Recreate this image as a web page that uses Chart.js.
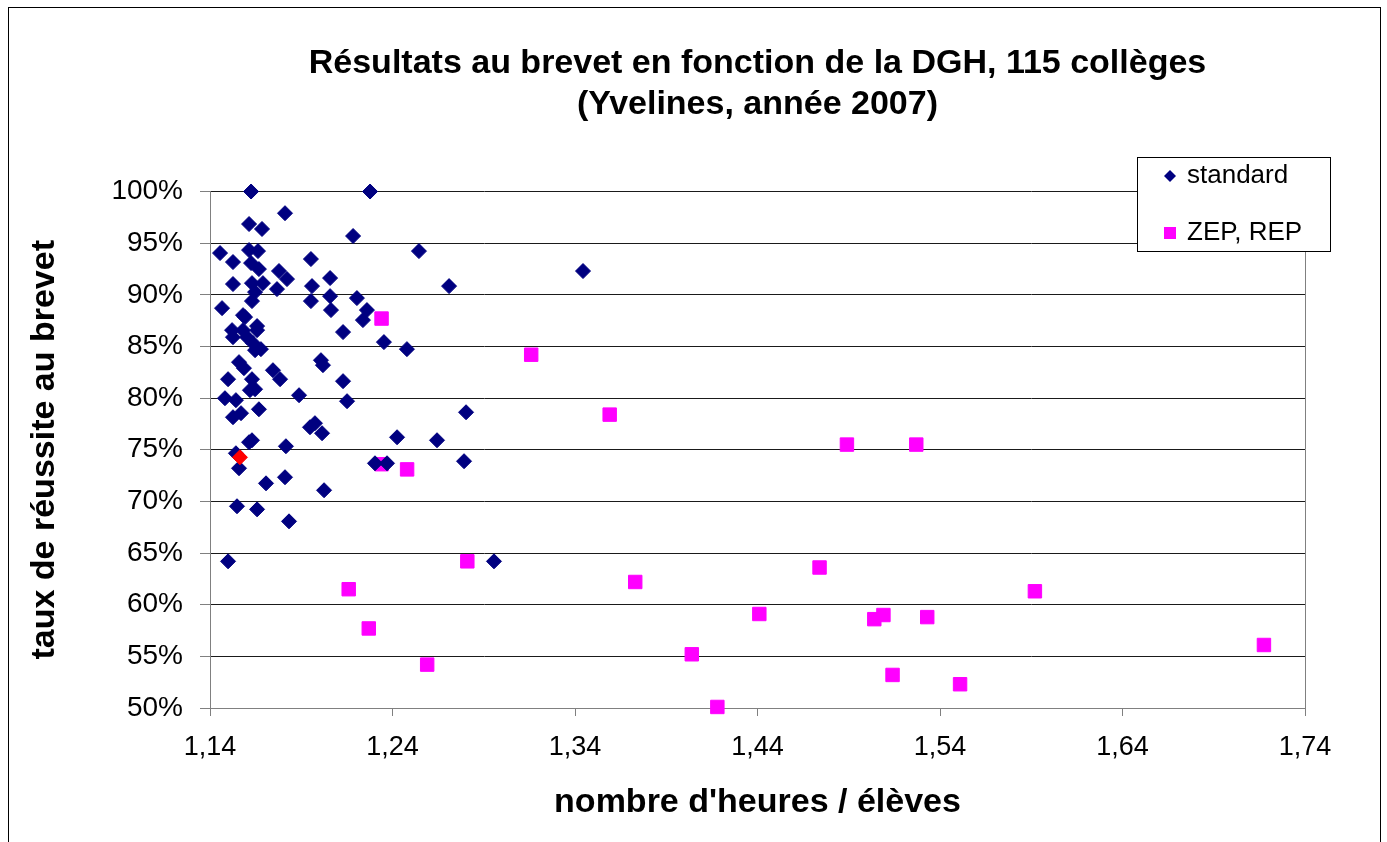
<!DOCTYPE html>
<html><head><meta charset="utf-8">
<script src="https://cdn.jsdelivr.net/npm/chart.js@4.4.0/dist/chart.umd.min.js"></script>
<style>html,body{margin:0;padding:0;background:#fff;overflow:hidden}canvas{display:block}</style>
</head><body>
<canvas id="c" width="1387" height="842"></canvas>
<script>
const titleLines = ['Résultats au brevet en fonction de la DGH, 115 collèges', '(Yvelines, année 2007)'];
const xAxisTitle = "nombre d'heures / élèves";
const yAxisTitle = 'taux de réussite au brevet';
const seriesNames = ['standard', 'ZEP, REP'];
const xTickValues = [1.14, 1.24, 1.34, 1.44, 1.54, 1.64, 1.74];
const xTickLabels = ['1,14', '1,24', '1,34', '1,44', '1,54', '1,64', '1,74'];
const yTickValues = [50, 55, 60, 65, 70, 75, 80, 85, 90, 95, 100];
const yTickLabels = ['50%', '55%', '60%', '65%', '70%', '75%', '80%', '85%', '90%', '95%', '100%'];

// standard colleges (last entry = highlighted college)
const stdX = [1.1625,1.2277,1.1811,1.1614,1.1685,1.2184,1.1455,1.1614,1.1663,1.2545,
  1.1953,1.1526,1.1625,1.1668,1.1778,1.1822,1.2058,1.1526,1.1630,1.1690,
  1.1959,1.2710,1.1767,1.1647,1.2058,1.2205,1.1953,1.1630,1.3444,1.1466,
  1.2063,1.2260,1.1581,1.2238,1.1658,1.1521,1.1581,1.2129,1.1526,1.1603,
  1.2353,1.1636,1.1679,1.2479,1.1559,1.1586,1.2008,1.2019,1.1630,1.1499,
  1.1745,1.1784,1.1619,1.1647,1.1482,1.1542,1.1888,1.2129,1.2151,1.1668,
  1.1526,1.1570,1.2803,1.1948,1.1975,1.2014,1.2425,1.2644,1.1614,1.1630,
  1.1816,1.1542,1.1559,1.2304,1.2370,1.2792,1.1811,1.1707,1.2025,1.1548,
  1.1658,1.1833,1.1499,1.2956,1.1647,1.1592,1.1658,
  1.1564];
const stdY = [100.0,100.0,97.9,96.85,96.37,95.69,94.04,94.33,94.23,94.23,
  93.46,93.17,93.07,92.49,92.30,91.52,91.62,91.04,91.13,91.13,
  90.84,90.84,90.55,90.26,89.87,89.68,89.39,89.39,92.30,88.71,
  88.52,88.52,88.03,87.55,86.97,86.58,86.58,86.39,85.90,85.90,
  85.42,85.32,84.74,84.74,83.48,82.90,83.67,83.19,81.83,81.83,
  82.70,81.83,80.77,80.86,79.99,79.80,80.28,81.64,79.70,78.92,
  78.15,78.54,78.63,77.18,77.57,76.60,76.21,75.92,75.73,75.92,
  75.34,74.66,73.21,73.69,73.69,73.89,72.34,71.75,71.08,69.53,
  69.23,68.07,64.20,64.20,84.64,87.84,86.58,
  74.27];
const highlightIndex = stdX.length - 1;

// ZEP / REP colleges
const zepX = [1.234,1.316,1.359,1.489,1.527,1.234,1.248,1.281,1.373,1.216,
  1.474,1.592,1.227,1.441,1.504,1.509,1.533,1.259,1.404,1.514,
  1.551,1.418,1.7175];
const zepY = [87.7,84.2,78.4,75.5,75.5,73.6,73.1,64.2,62.2,61.5,
  63.6,61.3,57.7,59.1,58.6,59.0,58.8,54.2,55.2,53.2,
  52.3,50.1,56.1];

const FONT = "'Liberation Sans', Arial, sans-serif";
Chart.defaults.font.family = FONT;
Chart.defaults.color = '#000';

const stdColors = stdX.map((_, i) => i === highlightIndex ? '#FF0000' : '#000080');

const frameAndLegend = {
  id: 'frameAndLegend',
  beforeDraw(chart) {
    const ctx = chart.ctx;
    ctx.save();
    ctx.fillStyle = '#fff';
    ctx.fillRect(0, 0, chart.width, chart.height);
    ctx.restore();
  },
  beforeDatasetsDraw(chart) {
    const {ctx, chartArea: a} = chart;
    ctx.save();
    ctx.strokeStyle = '#808080';
    ctx.lineWidth = 1;
    ctx.beginPath();
    ctx.moveTo(Math.round(a.right) + 0.5, a.top);
    ctx.lineTo(Math.round(a.right) + 0.5, a.bottom);
    ctx.stroke();
    ctx.restore();
  },
  afterDraw(chart) {
    const ctx = chart.ctx;
    ctx.save();
    // outer chart frame
    ctx.strokeStyle = '#000';
    ctx.lineWidth = 1;
    ctx.strokeRect(8.5, 7.5, 1372, 900);
    // legend box
    const L = {x: 1137.5, y: 157.5, w: 193, h: 94};
    ctx.fillStyle = '#fff';
    ctx.fillRect(L.x, L.y, L.w, L.h);
    ctx.strokeRect(L.x, L.y, L.w, L.h);
    const rows = [176, 233];
    ctx.font = '26px ' + FONT;
    ctx.textBaseline = 'middle';
    ctx.textAlign = 'left';
    chart.data.datasets.forEach((ds, i) => {
      const y = rows[i];
      const mx = 1170;
      ctx.fillStyle = ds.legendColor;
      ctx.beginPath();
      if (ds.pointStyle === 'rectRot') {
        const r = 6;
        ctx.moveTo(mx, y - r); ctx.lineTo(mx + r, y); ctx.lineTo(mx, y + r); ctx.lineTo(mx - r, y);
        ctx.closePath();
      } else {
        ctx.rect(mx - 6, y - 6, 12, 12);
      }
      ctx.fill();
      ctx.fillStyle = '#000';
      ctx.fillText(ds.label, 1187, y);
    });
    ctx.restore();
  }
};

new Chart(document.getElementById('c'), {
  type: 'scatter',
  data: {
    datasets: [
      {
        label: seriesNames[0],
        data: stdX.map((x, i) => ({x, y: stdY[i]})),
        pointStyle: 'rectRot',
        pointRadius: 7.5,
        pointBorderWidth: 1,
        pointBackgroundColor: stdColors,
        pointBorderColor: stdColors,
        legendColor: '#000080',
        clip: false
      },
      {
        label: seriesNames[1],
        data: zepX.map((x, i) => ({x, y: zepY[i]})),
        pointStyle: 'rect',
        pointRadius: 9.5,
        pointBorderWidth: 1,
        pointBackgroundColor: '#FF00FF',
        pointBorderColor: '#FF00FF',
        legendColor: '#FF00FF',
        clip: false
      }
    ]
  },
  options: {
    responsive: false,
    animation: false,
    layout: {padding: {left: 0, top: 0, right: 82, bottom: 0}},
    plugins: {
      legend: {display: false},
      tooltip: {enabled: false},
      title: {
        display: true,
        fullSize: false,
        text: titleLines,
        color: '#000',
        font: {family: FONT, size: 34, weight: 'bold', lineHeight: 1.2},
        padding: {top: 43.6, bottom: 66.3}
      }
    },
    scales: {
      x: {
        type: 'linear',
        min: 1.14, max: 1.74,
        afterFit(s) { s.height = 134; },
        afterBuildTicks(s) { s.ticks = xTickValues.map(v => ({value: v})); },
        ticks: {
          autoSkip: false, maxRotation: 0,
          font: {size: 27},
          color: '#000',
          padding: 15,
          callback: (v, i) => xTickLabels[i]
        },
        grid: {drawOnChartArea: false, drawTicks: true, tickLength: 8, tickColor: '#808080'},
        border: {display: true, color: '#808080', width: 1},
        title: {
          display: true, text: xAxisTitle,
          font: {size: 34, weight: 'bold', lineHeight: 1.2},
          color: '#000',
          padding: {top: 0, bottom: 18.6}
        }
      },
      y: {
        type: 'linear',
        min: 50, max: 100,
        afterFit(s) { s.width = 210; },
        afterBuildTicks(s) { s.ticks = yTickValues.map(v => ({value: v})); },
        ticks: {
          font: {size: 28},
          color: '#000',
          padding: 17,
          callback: (v, i) => yTickLabels[i]
        },
        grid: {color: '#1a1a1a', lineWidth: 1, drawTicks: true, tickLength: 10, tickColor: '#808080'},
        border: {display: true, color: '#808080', width: 1},
        title: {
          display: true, text: yAxisTitle,
          font: {size: 34, weight: 'bold', lineHeight: 1.2},
          color: '#000',
          padding: {top: 24.6, bottom: 0}
        }
      }
    }
  },
  plugins: [frameAndLegend]
});
</script>
</body></html>
